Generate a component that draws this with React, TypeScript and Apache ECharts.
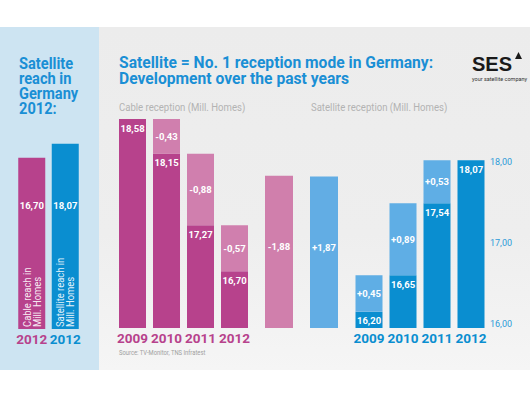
import React, { useEffect, useRef } from 'react';
import * as echarts from 'echarts';

const YEARS = ['2009', '2010', '2011', '2012'];
const CABLE_HOMES = [18.58, 18.15, 17.27, 16.7];
const CABLE_CHANGE: (number | null)[] = [null, -0.43, -0.88, -0.57];
const SAT_HOMES = [16.2, 16.65, 17.54, 18.07];
const SAT_CHANGE: (number | null)[] = [0.45, 0.89, 0.53, null];
const TOTAL_CHANGE = [-1.88, 1.87];
const REACH_KEYS = ['cable', 'satellite'];
const REACH_YEAR = ['2012', '2012'];
const REACH_2012 = [16.7, 18.07];
const REACH_LABELS = ['Cable reach in\nMill. Homes', 'Satellite reach in\nMill. Homes'];
const AXIS_TICKS = [16, 17, 18];
const AXIS_MIN = 16;
const AXIS_MAX = 19;

const FONT = 'Roboto, "Noto Sans", sans-serif';
const MAG = '#b7428c';
const MAG_L = '#d07fae';
const BLUE = '#0a8ed0';
const BLUE_L = '#5faee5';
const TITLE_BLUE = '#1a8fd5';

const fmt = (v: number) => v.toFixed(2).replace('.', ',');
const signed = (v: number) => (v > 0 ? '+' : '') + fmt(v);

export default function App() {
  const ref = useRef<HTMLDivElement>(null);
  useEffect(() => {
    document.body.style.margin = '0';
    const chart = echarts.init(ref.current!, undefined, { renderer: 'svg' });
    const gridH = 243;
    const darkLabel = {
      show: true,
      position: 'insideTop',
      distance: 4,
      color: '#fff',
      fontFamily: FONT,
      fontSize: 9.5,
      fontWeight: 'bold',
    };
    const lightLabel = { ...darkLabel, position: 'inside' };
    const hiddenY = (gi: number, min: number, max: number) => ({
      type: 'value',
      gridIndex: gi,
      min,
      max,
      show: false,
      splitLine: { show: false },
    });
    const catX = (gi: number, data: string[], colorFn?: any, show = true, formatter?: any) => ({
      type: 'category',
      gridIndex: gi,
      data,
      axisLine: { show: false },
      axisTick: { show: false },
      axisLabel: {
        show,
        margin: 3,
        fontFamily: FONT,
        fontSize: 13.5,
        fontWeight: 'bold',
        color: colorFn,
        interval: 0,
        formatter,
      },
    });
    const option: any = {
      animation: false,
      graphic: [
        { type: 'rect', z: -10, shape: { x: 0, y: 27, width: 99, height: 343 }, style: { fill: '#cde4f2' } },
        {
          type: 'rect',
          z: -10,
          shape: { x: 99, y: 27, width: 431, height: 343 },
          style: {
            fill: new echarts.graphic.LinearGradient(0, 0, 0, 1, [
              { offset: 0, color: '#ececec' },
              { offset: 0.6, color: '#eeeeee' },
              { offset: 1, color: '#f5f5f5' },
            ]),
          },
        },
        {
          type: 'text',
          x: 19,
          y: 55,
          scaleX: 0.86,
          style: {
            text: 'Satellite\nreach in\nGermany\n2012:',
            fontFamily: FONT,
            fontSize: 17,
            fontWeight: 'bold',
            lineHeight: 15.3,
            fill: TITLE_BLUE,
            verticalAlign: 'top',
          },
        },
        {
          type: 'text',
          x: 119,
          y: 55,
          scaleX: 0.92,
          style: {
            text: 'Satellite = No. 1 reception mode in Germany:\nDevelopment over the past years',
            fontFamily: FONT,
            fontSize: 17,
            fontWeight: 'bold',
            lineHeight: 15.3,
            fill: TITLE_BLUE,
            verticalAlign: 'top',
          },
        },
        {
          type: 'text',
          x: 119,
          y: 107,
          scaleX: 0.87,
          style: { text: 'Cable reception (Mill. Homes)', fontFamily: FONT, fontSize: 11, fill: '#b3b3b3', verticalAlign: 'middle' },
        },
        {
          type: 'text',
          x: 311,
          y: 107,
          scaleX: 0.87,
          style: { text: 'Satellite reception (Mill. Homes)', fontFamily: FONT, fontSize: 11, fill: '#b3b3b3', verticalAlign: 'middle' },
        },
        {
          type: 'text',
          x: 119,
          y: 353,
          scaleX: 0.9,
          style: { text: 'Source: TV-Monitor, TNS Infratest', fontFamily: FONT, fontSize: 6.5, fill: '#a0a0a0', verticalAlign: 'middle' },
        },
        {
          type: 'text',
          x: 472,
          y: 64,
          style: {
            text: 'SES',
            fontFamily: '"Liberation Sans", Arial, sans-serif',
            fontSize: 20,
            fontWeight: 'bold',
            fill: '#1a1a1a',
            verticalAlign: 'middle',
          },
        },
        {
          type: 'polygon',
          shape: { points: [[518.5, 52], [515, 59], [522, 59]] },
          style: { fill: '#1a1a1a' },
        },
        {
          type: 'text',
          x: 472,
          y: 79,
          style: { text: 'your satellite company', fontFamily: FONT, fontSize: 5.5, fill: '#333', verticalAlign: 'middle' },
        },
        ...REACH_LABELS.map((t, i) => ({
          type: 'text',
          z: 100,
          x: 32 + i * 33.5,
          y: 327,
          rotation: Math.PI / 2,
          scaleX: 0.9,
          style: {
            text: t,
            fontFamily: FONT,
            fontSize: 10.5,
            lineHeight: 10,
            fill: 'rgba(255,255,255,0.9)',
            align: 'left',
            verticalAlign: 'middle',
          },
        })),
      ],
      grid: [
        { left: 15, top: 124, width: 67, height: 205 },
        { left: 115.5, top: 85, width: 136, height: gridH },
        { left: 256.5, top: 85, width: 90, height: gridH },
        { left: 352, top: 85, width: 136, height: gridH },
      ],
      xAxis: [
        catX(0, REACH_KEYS, (_v: any, i: number) => (i === 0 ? MAG : BLUE), true, (_v: any, i: number) => REACH_YEAR[i]),
        catX(1, YEARS, MAG),
        catX(2, REACH_KEYS, undefined, false),
        catX(3, YEARS, BLUE),
      ],
      yAxis: [
        hiddenY(0, 0, 20),
        hiddenY(1, AXIS_MIN, AXIS_MAX),
        hiddenY(2, AXIS_MIN, AXIS_MAX),
        {
          type: 'value',
          gridIndex: 3,
          min: AXIS_MIN,
          max: AXIS_MAX,
          interval: 1,
          position: 'right',
          axisLine: { show: false },
          axisTick: { show: false },
          splitLine: { show: false },
          axisLabel: {
            margin: 2,
            fontFamily: FONT,
            fontSize: 9,
            color: '#2d9bd8',
            verticalAlign: 'bottom',
            formatter: (v: number) => (AXIS_TICKS.includes(v) ? fmt(v) : ''),
          },
        },
      ],
      series: [
        {
          type: 'bar',
          xAxisIndex: 0,
          yAxisIndex: 0,
          barWidth: 27,
          data: REACH_2012.map((v, i) => ({ value: v, itemStyle: { color: i === 0 ? MAG : BLUE } })),
          label: { ...darkLabel, position: 'insideBottom', distance: 119, formatter: (p: any) => fmt(p.value) },
        },
        {
          type: 'bar',
          xAxisIndex: 1,
          yAxisIndex: 1,
          stack: 'cable',
          barWidth: 27,
          data: CABLE_HOMES,
          itemStyle: { color: MAG },
          label: { ...darkLabel, formatter: (p: any) => fmt(p.value) },
        },
        {
          type: 'bar',
          xAxisIndex: 1,
          yAxisIndex: 1,
          stack: 'cable',
          barWidth: 27,
          data: CABLE_CHANGE.map((v) => (v == null ? '-' : Math.abs(v))),
          itemStyle: { color: MAG_L },
          label: { ...lightLabel, formatter: (p: any) => signed(CABLE_CHANGE[p.dataIndex] as number) },
        },
        {
          type: 'bar',
          xAxisIndex: 2,
          yAxisIndex: 2,
          barWidth: 28,
          data: TOTAL_CHANGE.map((v, i) => ({
            value: AXIS_MIN + Math.abs(v),
            itemStyle: { color: i === 0 ? '#d07fac' : '#62ade4' },
          })),
          label: { ...lightLabel, offset: [0, -5], formatter: (p: any) => signed(TOTAL_CHANGE[p.dataIndex]) },
        },
        {
          type: 'bar',
          xAxisIndex: 3,
          yAxisIndex: 3,
          stack: 'sat',
          barWidth: 27,
          data: SAT_HOMES,
          itemStyle: { color: BLUE },
          label: { ...darkLabel, formatter: (p: any) => fmt(p.value) },
        },
        {
          type: 'bar',
          xAxisIndex: 3,
          yAxisIndex: 3,
          stack: 'sat',
          barWidth: 27,
          data: SAT_CHANGE.map((v) => (v == null ? '-' : Math.abs(v))),
          itemStyle: { color: BLUE_L },
          label: { ...lightLabel, formatter: (p: any) => signed(SAT_CHANGE[p.dataIndex] as number) },
        },
      ],
    };
    chart.setOption(option);
    return () => chart.dispose();
  }, []);
  return <div ref={ref} style={{ width: 530, height: 398 }} />;
}
